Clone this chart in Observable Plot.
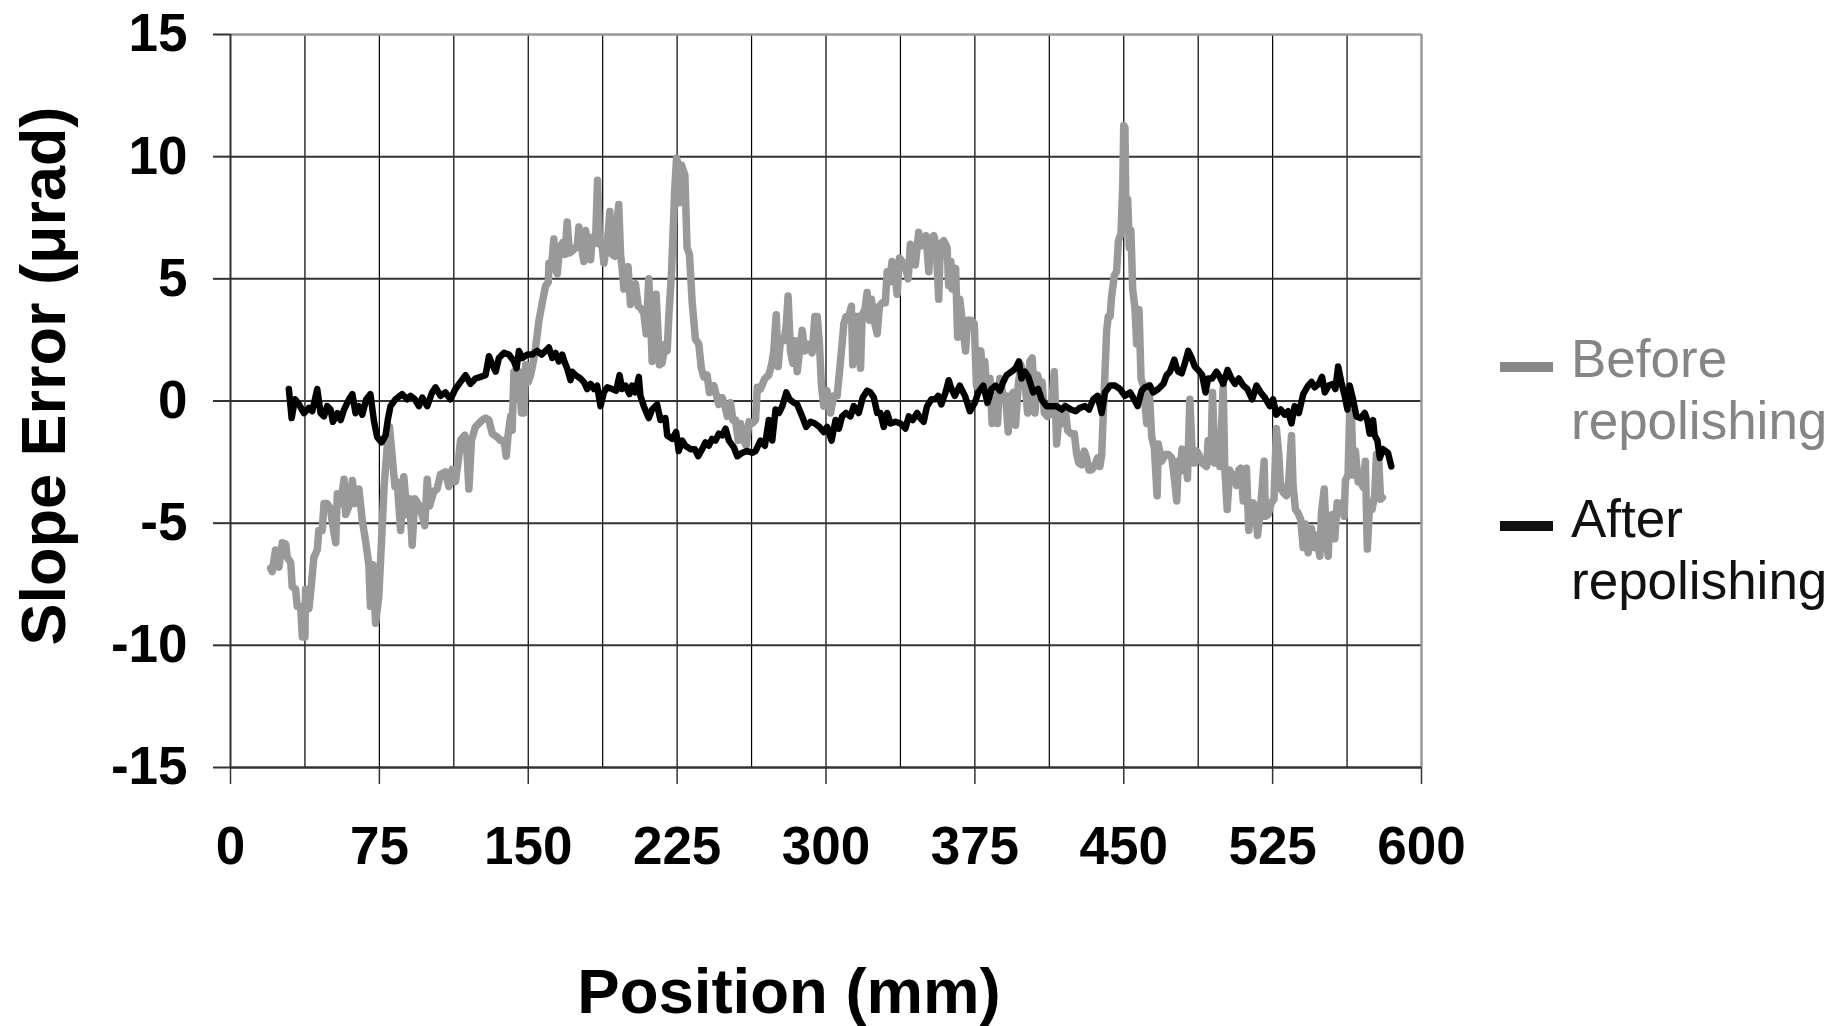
<!DOCTYPE html>
<html>
<head>
<meta charset="utf-8">
<script src="https://cdn.jsdelivr.net/npm/d3@7"></script>
<script src="https://cdn.jsdelivr.net/npm/@observablehq/plot@0.6"></script>
<style>
  html, body { margin: 0; padding: 0; background: #fff; }
  #wrap { position: relative; width: 1837px; height: 1026px; overflow: hidden; font-family: "Liberation Sans", Arial, sans-serif; }
  #chart { position: absolute; left: 0; top: 0; }
  .ytitle { position: absolute; left: 43px; top: 376px; transform: translate(-50%, -50%) rotate(-90deg); font-size: 63px; line-height: 1; font-weight: bold; white-space: nowrap; color: #000; }
  .xtitle { position: absolute; left: 789px; top: 960px; transform: translateX(-50%); font-size: 63.5px; line-height: 1; font-weight: bold; white-space: nowrap; color: #000; }
  .lg-sw { position: absolute; left: 1500px; width: 53px; height: 10px; }
  .lg-tx { position: absolute; left: 1571px; font-size: 53px; line-height: 62px; white-space: nowrap; }
</style>
</head>
<body>
<div id="wrap">
  <div id="chart"></div>
  <div class="ytitle">Slope Error (μrad)</div>
  <div class="xtitle">Position (mm)</div>
  <div class="lg-sw" style="top:362px;background:#888888"></div>
  <div class="lg-tx" style="top:328px;color:#858585">Before<br>repolishing</div>
  <div class="lg-sw" style="top:521px;background:#111111"></div>
  <div class="lg-tx" style="top:488px;color:#111111">After<br>repolishing</div>
</div>
<script>
// Tick values
const xTicks = [0, 75, 150, 225, 300, 375, 450, 525, 600];
const xGrid = [37.5, 75, 112.5, 150, 187.5, 225, 262.5, 300, 337.5, 375, 412.5, 450, 487.5, 525, 562.5];
const yTicks = [-15, -10, -5, 0, 5, 10, 15];
const yGrid = [-10, -5, 0, 5, 10];

// Series: [position (mm), slope error (µrad)]
const beforeRepolishing = [
[20.2,-6.84],[21.0,-6.98],[22.7,-6.1],[24.4,-6.8],[26.1,-5.8],[27.8,-5.85],[28.6,-6.4],[30.3,-6.6],[31.1,-7.6],[32.8,-7.7],
[33.6,-8.4],[35.3,-8.4],[36.2,-9.66],[37.5,-9.66],[37.8,-7.7],[39.5,-8.5],[40.4,-7.8],[42.0,-6.4],[43.7,-6.1],[44.5,-5.3],
[46.2,-5.3],[47.1,-4.2],[48.7,-4.2],[50.4,-4.4],[51.3,-5.0],[53.0,-5.8],[53.8,-3.8],[55.5,-4.2],[57.2,-3.2],[58.0,-4.65],
[59.7,-4.3],[61.4,-3.25],[62.7,-4.2],[64.7,-3.6],[66.4,-4.9],[68.0,-5.7],[69.7,-6.7],[70.5,-8.4],[71.7,-6.7],[73.1,-9.1],
[74.7,-8.0],[76.1,-5.7],[77.3,-3.6],[78.9,-1.9],[80.1,-1.06],[81.5,-2.3],[82.8,-3.5],[84.0,-3.3],[85.7,-5.3],[87.3,-3.1],
[89.0,-4.65],[90.2,-4.0],[91.5,-5.9],[92.9,-4.0],[94.5,-4.2],[95.7,-4.4],[97.9,-5.1],[99.1,-3.2],[100.3,-4.3],[102.4,-3.7],
[104.1,-3.6],[105.8,-3.0],[108.3,-2.9],[110.0,-3.5],[111.7,-2.8],[113.3,-3.3],[115.0,-2.3],[115.9,-1.6],[118.0,-1.4],[119.2,-2.2],
[120.1,-3.6],[121.4,-1.6],[123.4,-1.06],[126.8,-0.78],
[128.5,-0.7],[130.2,-0.78],[131.9,-1.34],[134.4,-1.48],[136.1,-1.62],[137.8,-1.62],[138.9,-2.26],[139.9,-1.34],[141.1,-0.63],[141.9,-1.2],
[142.8,1.2],[144.5,0.63],[145.3,1.2],[146.6,-0.49],[147.8,-0.49],[148.7,1.48],[150.0,0.78],[151.2,1.06],[152.9,1.76],[153.7,2.19],
[155.4,3.3],[157.0,4.0],[158.7,4.7],[160.1,4.87],[160.4,5.64],[161.7,5.5],[162.9,6.63],[163.8,5.36],[164.6,5.2],[165.8,6.28],
[167.4,6.49],[168.5,6.0],[169.6,7.33],[170.8,6.06],[173.0,6.2],[174.7,6.35],[175.5,7.12],[176.3,6.56],[178.0,5.71],[178.9,6.98],
[179.7,6.49],[181.4,5.78],[182.2,6.7],[183.1,6.42],[183.9,6.56],[184.9,9.03],[185.9,6.42],[187.2,6.35],[188.1,5.64],[189.3,6.28],
[190.3,6.91],[191.1,7.76],[192.3,6.0],[193.6,5.92],[194.5,7.12],[195.6,8.04],[196.5,6.0],[197.3,5.43],[198.2,4.58],[199.0,5.29],
[200.3,5.5],[201.5,3.95],[202.7,4.72],[204.0,4.8],[205.4,3.88],[206.5,3.81],[208.2,3.6],[209.4,2.75],[210.7,5.0],[211.6,3.6],
[212.4,1.62],[213.3,2.89],[214.4,4.37],[215.4,2.75],[216.1,1.48],[217.4,1.55],[219.1,2.33],[220.0,2.05],[220.8,3.46],[222.1,5.15],
[223.0,6.98],[223.8,8.67],[224.7,9.94],[225.5,9.66],[226.2,8.11],[227.2,9.66],[228.9,9.24],[230.0,6.28],[231.2,6.0],[232.6,4.02],
[234.2,2.54],[235.9,2.33],[237.2,1.34],[238.4,0.99],[240.1,1.06],[241.3,0.35],[243.5,0.63],[246.0,-0.14],
[247.7,0.14],[249.1,-0.21],[250.3,-0.63],[251.9,-0.07],[253.1,-0.78],[254.4,-0.78],[255.8,-1.62],[257.0,-0.92],[258.1,-1.55],[259.8,-1.83],
[261.2,-0.85],[262.8,-0.92],[264.5,-0.78],[265.4,0.56],[267.0,0.49],[269.2,0.92],[271.2,1.06],[272.6,1.48],[273.7,2.05],[274.9,3.53],
[275.9,1.41],[277.1,2.54],[277.9,2.47],[278.8,2.47],[279.9,3.03],[280.9,4.3],[282.1,2.05],[283.3,1.55],[284.3,2.47],[285.5,1.2],
[286.7,2.05],[288.0,2.89],[289.3,2.05],[290.5,2.33],[291.7,2.19],[293.0,1.97],[294.4,3.46],[295.6,3.46],[296.7,2.33],[297.7,0.63],
[298.9,-0.21],[300.5,0.42],[302.3,-0.49],[303.9,0.21],[305.6,0.21],[306.8,1.2],[308.1,2.33],[309.0,3.17],[310.1,3.46],[311.5,3.46],
[312.8,3.88],[313.5,1.48],[314.8,3.46],[316.2,3.46],[317.4,1.34],[318.2,3.53],[319.6,3.74],[320.7,4.44],[321.9,3.31],[322.9,4.16],
[324.6,3.17],[325.8,2.75],[326.9,3.88],[328.3,4.02],[329.9,4.02],[330.8,5.29],[332.0,4.87],[333.3,5.71],[334.6,5.43],[335.8,4.37],
[337.0,5.85],[338.3,5.71],[340.0,5.5],[341.4,5.0],[342.5,6.42],[344.2,6.28],[345.0,5.57],[346.7,6.91],[348.0,6.35],[349.2,6.63],
[350.4,6.77],[351.8,5.29],[352.6,6.56],[354.3,6.77],[355.5,6.35],[356.8,4.16],[357.6,6.42],[359.3,6.56],[361.0,6.28],[361.8,4.72],
[362.9,5.71],[363.6,4.58],[365.3,5.43],[366.3,2.61],[367.4,4.16],[368.6,3.31],[370.3,2.05],[371.3,3.31],[373.0,3.31],[374.7,3.17],
[375.8,0.63],[376.7,1.62],[378.0,2.05],[379.2,0.78],[380.0,1.62],[381.4,-0.07],[382.6,0.92],[383.7,-0.92],[385.1,0.21],[386.4,-0.92],
[387.6,0.92],[389.3,0.21],[390.5,0.21],[391.8,-1.27],[393.2,0.21],[394.3,0.35],[395.5,-0.99],[396.8,0.63],[398.2,1.48],[399.4,1.06],
[400.2,0.78],[401.6,-0.49],[402.7,1.62],[403.9,1.76],[405.3,-0.49],[406.6,1.06],[407.8,0.63],[408.9,0.78],[410.0,-0.49],[411.6,-0.63],
[413.3,-0.49],[415.0,1.2],[416.2,-1.76],[417.4,-0.63],[419.0,-0.92],[420.4,-0.21],[421.7,-1.2],[423.4,-1.34],[425.1,-1.34],[426.3,-2.19],
[427.4,-2.54],[428.8,-2.61],[430.1,-2.05],[431.3,-2.33],[432.5,-2.82],[433.8,-2.82],[435.2,-2.68],[436.8,-2.33],[438.0,-2.68],[438.9,-2.19],
[439.7,-0.49],[440.5,1.06],[441.4,2.89],[442.2,3.46],[443.1,3.46],[443.9,4.3],[445.3,5.15],[446.4,5.29],[447.3,6.56],[448.6,6.84],
[449.5,8.8],[450.0,11.28],[450.6,11.2],[451.1,7.69],[452.0,8.25],[452.8,6.28],[453.6,6.98],[454.5,4.58],[455.7,3.74],[456.5,2.33],
[457.7,3.74],[458.7,0.92],[459.9,0.63],[461.6,-0.92],[462.7,0.63],[464.1,-1.48],[465.4,-1.9],[466.8,-3.88],[467.4,-1.76],[469.1,-2.47],
[470.8,-2.19],[472.5,-2.19],[474.2,-2.33],[475.5,-3.17],[476.7,-4.09],[477.5,-2.47],
[478.3,-2.89],[479.4,-1.97],[480.8,-2.19],[482.1,-3.17],[483.3,0.07],[484.5,-2.19],[485.5,-2.54],[486.7,-2.05],[487.8,-2.19],[489.5,-2.54],
[491.7,-2.68],[492.5,-1.62],[493.9,-2.47],[494.7,0.35],[495.9,-2.54],[496.7,-1.76],[498.4,-2.68],[500.1,0.63],[500.9,-2.75],[502.1,-4.44],
[503.4,-2.82],[504.6,-3.1],[505.6,-3.03],[506.8,-3.46],[508.0,-2.82],[509.0,-2.75],[510.2,-4.09],[511.8,-2.75],[513.0,-5.29],[514.0,-4.16],
[515.2,-4.16],[516.4,-4.44],[517.4,-5.5],[518.5,-4.72],[519.7,-3.6],[520.7,-2.47],[521.4,-4.72],[522.7,-4.65],[524.4,-4.16],[525.7,-4.02],
[526.9,-1.13],[528.1,-2.19],[529.1,-3.6],[530.3,-3.74],[531.9,-3.88],[533.1,-3.31],[534.5,-1.41],[535.3,-3.46],[536.5,-4.44],[537.8,-4.58],
[539.2,-4.87],[540.4,-6.0],[541.5,-5.03],[542.9,-6.21],[544.6,-5.22],[545.9,-6.0],[547.1,-5.5],[548.8,-6.35],[549.6,-4.58],[551.0,-3.6],
[552.1,-5.64],[553.0,-6.35],[553.8,-4.72],[555.0,-4.65],[556.3,-5.64],[557.5,-4.16],[558.8,-4.44],[560.0,-4.16],[561.0,-4.72],[561.7,-3.24],
[563.0,-3.03],[563.8,-0.49],[564.7,-0.49],[565.6,-3.03],[566.7,-2.05],[568.1,-3.31],[569.4,-3.31],[570.6,-3.53],[571.7,-2.47],[572.7,-6.06],
[573.9,-4.16],[575.1,-4.44],[576.4,-3.88],[577.3,-2.19],[578.4,-2.33],[579.4,-4.02],[580.3,-3.95]
];

const afterRepolishing = [
[29.4,0.49],[30.8,-0.7],[32.5,0.07],[34.5,-0.14],[37.0,-0.5],[39.5,-0.28],[41.2,-0.42],[43.7,0.49],[45.4,-0.5],[47.1,-0.63],
[48.7,-0.21],[50.4,-0.35],[51.6,-0.85],[53.8,-0.5],[55.5,-0.78],[57.2,-0.35],[59.7,0.07],[61.4,0.28],[63.0,-0.5],[64.7,-0.21],
[66.4,-0.56],[68.4,0.07],[70.5,0.28],[72.2,-0.78],[73.9,-1.48],[76.1,-1.69],[78.1,-1.41],[79.4,-0.7],[80.6,-0.21],[83.1,0.07],
[86.5,0.28],[89.0,0.07],[90.7,0.21],[92.9,0.07],[94.9,-0.21],[96.6,0.14],[99.1,-0.21],[101.6,0.35],[103.3,0.56],[105.8,0.21],
[108.3,0.35],[110.8,0.07],[113.3,0.49],[115.9,0.78],[118.4,1.06],[120.9,0.7],[123.4,0.92],[126.0,0.99],
[128.5,1.06],[130.2,1.83],[131.9,1.48],[133.6,1.2],[135.2,1.76],[137.8,1.97],[140.3,1.9],[142.8,1.62],[144.1,1.34],[145.3,2.05],
[147.0,1.76],[149.5,1.9],[152.0,1.9],[154.5,2.05],[156.7,1.9],[158.7,2.05],[160.4,2.19],[162.1,1.76],[163.8,1.97],[165.4,1.62],
[167.1,1.9],[168.5,1.55],[169.6,1.34],[171.3,0.85],[172.1,1.2],[173.8,1.06],[176.3,0.92],[178.0,0.78],[179.7,0.49],[181.4,0.7],
[183.1,0.49],[184.7,0.63],[186.4,-0.21],[188.1,0.35],[189.8,0.56],[192.3,0.49],[194.3,0.42],[196.0,1.06],[197.3,0.49],[199.0,0.63],
[201.0,0.28],[202.3,0.63],[204.0,0.35],[205.7,0.99],[206.5,0.21],[208.2,-0.21],[210.7,-0.7],[212.4,-0.35],[214.9,-0.14],[216.6,-0.78],
[219.1,-0.7],[220.0,-1.41],[222.5,-1.55],[224.5,-1.27],[225.8,-2.05],[227.5,-1.62],[229.2,-1.83],[231.7,-1.97],[233.9,-1.97],[235.6,-2.26],
[237.6,-1.97],[239.3,-1.69],[241.0,-1.83],[242.6,-1.55],[244.3,-1.62],[246.0,-1.34],
[247.7,-1.41],[249.4,-1.13],[251.1,-1.62],[253.6,-1.9],[255.3,-2.26],[257.8,-2.12],[260.3,-2.05],[262.8,-2.12],[264.5,-2.05],[267.0,-1.62],
[269.2,-1.83],[271.2,-0.78],[272.9,-1.62],[274.6,-0.35],[276.3,-0.49],[278.0,-0.21],[280.0,0.35],[281.6,0.07],[283.8,-0.07],[285.5,-0.14],
[288.0,-0.63],[290.0,-1.06],[292.2,-0.85],[294.4,-0.92],[296.7,-1.06],[298.9,-1.27],[300.6,-1.06],[302.8,-1.62],[304.8,-0.78],[306.5,-1.13],
[308.1,-0.63],[310.1,-0.49],[312.3,-0.63],[314.0,-0.21],[316.5,-0.49],[318.5,0.14],[320.7,0.42],[322.4,0.35],[324.1,0.14],[325.8,-0.49],
[327.4,-0.49],[329.1,-1.06],[330.8,-0.49],[332.5,-0.92],[335.0,-0.85],[337.5,-0.92],[340.0,-1.13],[341.7,-0.63],[343.7,-0.78],[345.9,-0.49],
[347.5,-0.7],[349.2,-0.85],[350.9,-0.21],[353.1,0.07],[355.1,0.07],[356.5,0.21],[358.1,-0.14],[360.2,0.35],[361.8,0.85],
[363.2,0.49],[364.9,0.21],[367.4,0.63],[370.0,0.21],[372.5,-0.42],[375.0,-0.07],[376.7,0.35],[379.2,0.63],[381.4,-0.07],[383.4,0.49],
[385.4,0.63],[387.6,0.42],[389.3,0.78],[391.0,1.06],[393.5,1.2],[395.5,1.34],[397.2,1.62],[398.5,0.92],[400.2,1.2],[401.9,0.99],
[404.4,0.35],[406.9,0.49],[408.6,0.07],[411.1,-0.21],[413.7,-0.21],[416.2,-0.21],[418.7,-0.35],[420.7,-0.21],[423.4,-0.35],[425.8,-0.42],
[427.9,-0.28],[430.5,-0.21],[432.5,-0.35],[434.7,0.07],[436.8,0.21],[438.9,-0.49],[440.5,0.35],[443.1,0.63],[445.6,0.63],[448.1,0.49],
[450.6,0.21],[453.2,0.35],[455.7,0.0],[457.0,-0.21],[459.0,0.42],[460.7,0.56],[463.2,0.63],[464.9,0.35],[467.4,0.49],[470.0,0.7],
[471.6,1.06],[473.3,1.2],[475.5,1.69],[476.7,1.34],[477.5,1.2],
[479.2,1.13],[480.8,1.55],[482.5,2.05],[484.2,1.76],[485.8,1.41],[487.5,1.27],[489.5,1.06],[491.2,0.35],[492.5,0.92],[494.5,0.92],
[496.7,1.2],[498.4,0.99],[500.1,0.7],[502.3,1.27],[504.3,0.92],[506.0,0.7],[508.0,0.92],[510.2,0.63],[512.3,0.49],[514.7,0.07],
[516.9,0.63],[519.0,0.35],[521.1,0.14],[523.6,-0.21],[525.2,0.07],[526.9,-0.56],[529.1,-0.35],[531.1,-0.56],[532.8,-0.42],[534.5,-0.92],
[536.1,-0.21],[538.2,-0.49],[540.4,0.28],[542.9,0.63],[544.6,0.78],[546.2,0.56],[548.2,0.7],[549.9,0.99],[551.3,0.35],[553.3,0.63],
[555.5,0.7],[556.6,0.49],[558.0,1.41],[559.6,0.78],[561.3,0.21],[562.7,-0.35],[563.8,0.63],[565.5,0.07],[567.2,-0.63],[569.4,-0.7],
[571.4,-0.49],[572.7,-0.78],[573.9,-1.34],[575.6,-0.78],[576.4,-1.41],[577.8,-1.62],[579.0,-2.33],[580.6,-1.97],[583.1,-2.12],[584.8,-2.68]
];

const before = beforeRepolishing.map(([pos, slope]) => ({pos, slope}));
const after = afterRepolishing.map(([pos, slope]) => ({pos, slope}));

const chart = Plot.plot({
  width: 1837,
  height: 1026,
  marginLeft: 230,
  marginRight: 416,
  marginTop: 34,
  marginBottom: 259,
  x: {domain: [0, 600]},
  y: {domain: [-15, 15]},
  style: {fontFamily: "'Liberation Sans', Arial, sans-serif", background: "transparent", color: "#000"},
  marks: [
    Plot.ruleX(xGrid, {stroke: "#000", strokeWidth: 1.2}),
    Plot.ruleY(yGrid, {stroke: "#333", strokeWidth: 2}),
    Plot.ruleY([15], {stroke: "#999", strokeWidth: 2.5}),
    Plot.ruleX([600], {stroke: "#999", strokeWidth: 2.5}),
    Plot.ruleX([0], {stroke: "#333", strokeWidth: 2}),
    Plot.ruleY([-15], {stroke: "#333", strokeWidth: 2.5}),
    Plot.axisX(xTicks, {tickSize: 17, tickPadding: 42, fontSize: 53, fontWeight: "bold", stroke: "#333", strokeWidth: 1.5, label: null, tickFormat: d => String(d)}),
    Plot.axisY(yTicks, {tickSize: 17, tickPadding: 26, fontSize: 53, fontWeight: "bold", stroke: "#333", strokeWidth: 2, label: null, tickFormat: d => String(d)}),
    Plot.line(before, {x: "pos", y: "slope", stroke: "#999999", strokeWidth: 7.5}),
    Plot.line(after, {x: "pos", y: "slope", stroke: "#000000", strokeWidth: 6.5})
  ]
});
document.getElementById("chart").appendChild(chart);
</script>
</body>
</html>
